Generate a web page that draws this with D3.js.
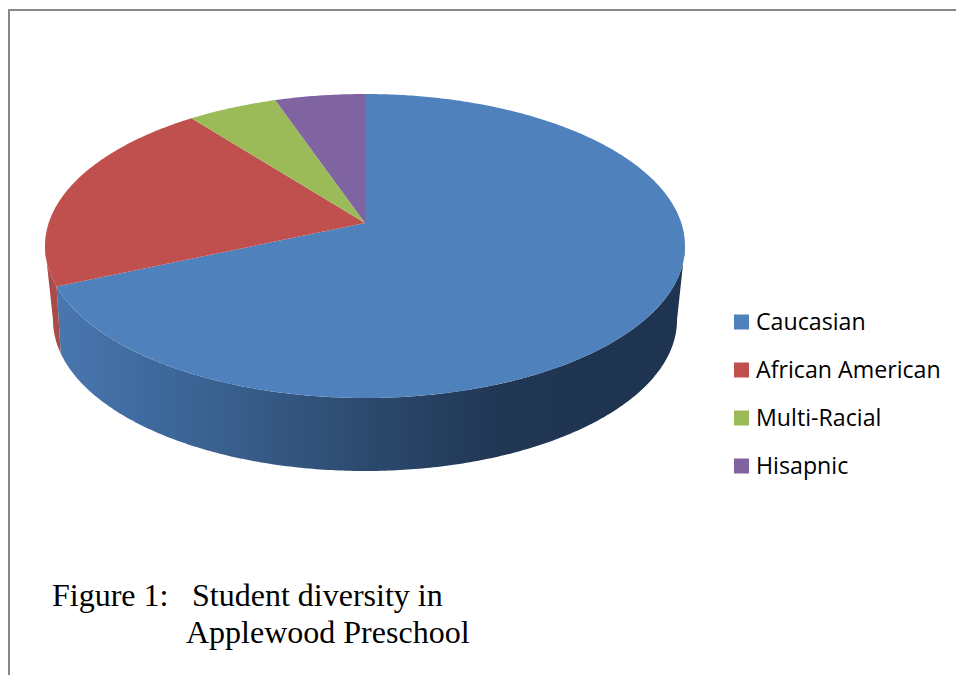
<!DOCTYPE html>
<html>
<head>
<meta charset="utf-8">
<title>Student diversity</title>
<script src="https://cdn.jsdelivr.net/npm/d3@7"></script>
<style>
  html, body { margin: 0; padding: 0; background: #fff; overflow: hidden; }
  svg { display: block; }
</style>
</head>
<body>
<div id="chart"></div>
<script>
var categories = ['Caucasian', 'African American', 'Multi-Racial', 'Hisapnic'];
var values = [13, 4, 1, 1];
var colors = ['#4f81bd', '#c0504d', '#9bbb59', '#8064a2'];
var wallColors = ['#4f81bd', '#a84b49', '#84a04c', '#6d5589'];
var captionLines = ['Figure 1:', 'Student diversity in', 'Applewood Preschool'];

var width = 956, height = 675;
var cx = 365;

var svg = d3.select('#chart').append('svg')
    .attr('width', width)
    .attr('height', height);

// frame, only top and left show in the crop
svg.append('path')
    .attr('d', 'M9,675V10H956')
    .attr('fill', 'none')
    .attr('stroke', '#878787')
    .attr('stroke-width', 2);

var color = d3.scaleOrdinal().domain(categories).range(colors);
var wallColor = d3.scaleOrdinal().domain(categories).range(wallColors);

var pie = d3.pie().sort(null).value(function (d, i) { return values[i]; });
var arcs = pie(categories);

// circle -> ellipse with a perspective shift, the pie centre is not the ellipse centre
function rim(cy, rx, ry, shift) {
    var c = shift / ry;
    var d = rx * Math.sqrt(1 - c * c);
    return function (a) {
        var u = Math.sin(a), v = Math.cos(a), s = c * v + 1;
        return [cx + d * u / s, cy - (ry * v + shift) / s];
    };
}
var topRim = rim(246, 320, 152, 23);
var bottomRim = rim(320, 312, 151, 30);
var apex = [cx, 246 - 23];

function sample(a0, a1) {
    var n = Math.max(2, Math.ceil(Math.abs(a1 - a0) / 0.01));
    return d3.range(n + 1).map(function (i) { return a0 + (a1 - a0) * i / n; });
}
var line = d3.line();

// side wall gradient for the big slice
var defs = svg.append('defs');
var grad = defs.append('linearGradient')
    .attr('id', 'wallBlue')
    .attr('gradientUnits', 'userSpaceOnUse')
    .attr('x1', 45).attr('x2', 685).attr('y1', 0).attr('y2', 0);
[[0, '#4a78b0'], [0.16, '#3f6a9f'], [0.32, '#375c88'], [0.5, '#2c4a6e'], [0.7, '#213755'], [0.85, '#1f3450'], [1, '#1f3450']]
    .forEach(function (s) {
        grad.append('stop').attr('offset', s[0]).attr('stop-color', s[1]);
    });

// visible front part of the wall, from the right extreme round to the left one
var frontStart = Math.acos(-23 / 152);
var frontEnd = 2 * Math.PI - frontStart;
var frontStartB = Math.acos(-30 / 151);
var frontEndB = 2 * Math.PI - frontStartB;

var walls = svg.append('g').attr('class', 'walls');
arcs.forEach(function (d) {
    if (d.endAngle <= frontStart || d.startAngle >= frontEnd) return;
    var a0 = Math.max(d.startAngle, frontStart), a1 = Math.min(d.endAngle, frontEnd);
    var b0 = Math.max(d.startAngle, frontStartB), b1 = Math.min(d.endAngle, frontEndB);
    var pts = sample(a0, a1).map(topRim).concat(sample(b1, b0).map(bottomRim));
    walls.append('path')
        .attr('d', line(pts) + 'Z')
        .attr('fill', d.index === 0 ? 'url(#wallBlue)' : wallColor(d.data));
});

// top face
svg.append('g').attr('class', 'slices')
    .selectAll('path')
    .data(arcs)
    .enter().append('path')
    .attr('d', function (d) {
        return line([apex].concat(sample(d.startAngle, d.endAngle).map(topRim))) + 'Z';
    })
    .attr('fill', function (d) { return color(d.data); });

// legend
var legendY = d3.scalePoint().domain(categories).range([322, 466]);
var legend = svg.append('g').attr('class', 'legend')
    .selectAll('g')
    .data(categories)
    .enter().append('g')
    .attr('transform', function (d) { return 'translate(734,' + legendY(d) + ')'; });
legend.append('rect')
    .attr('x', 0).attr('y', -7.5)
    .attr('width', 15).attr('height', 15)
    .attr('fill', function (d) { return color(d); });
legend.append('text')
    .attr('x', 22).attr('y', 8)
    .attr('font-family', '"Open Sans", sans-serif')
    .attr('font-size', 23.2)
    .attr('fill', '#000')
    .text(function (d) { return d; });

// caption
var caption = svg.append('g').attr('class', 'caption')
    .attr('font-family', '"Liberation Serif", serif')
    .attr('font-size', 32)
    .attr('fill', '#000');
caption.append('text').attr('x', 52).attr('y', 606).text(captionLines[0]);
caption.append('text').attr('x', 192).attr('y', 606).text(captionLines[1]);
caption.append('text').attr('x', 186).attr('y', 643).text(captionLines[2]);
</script>
</body>
</html>
